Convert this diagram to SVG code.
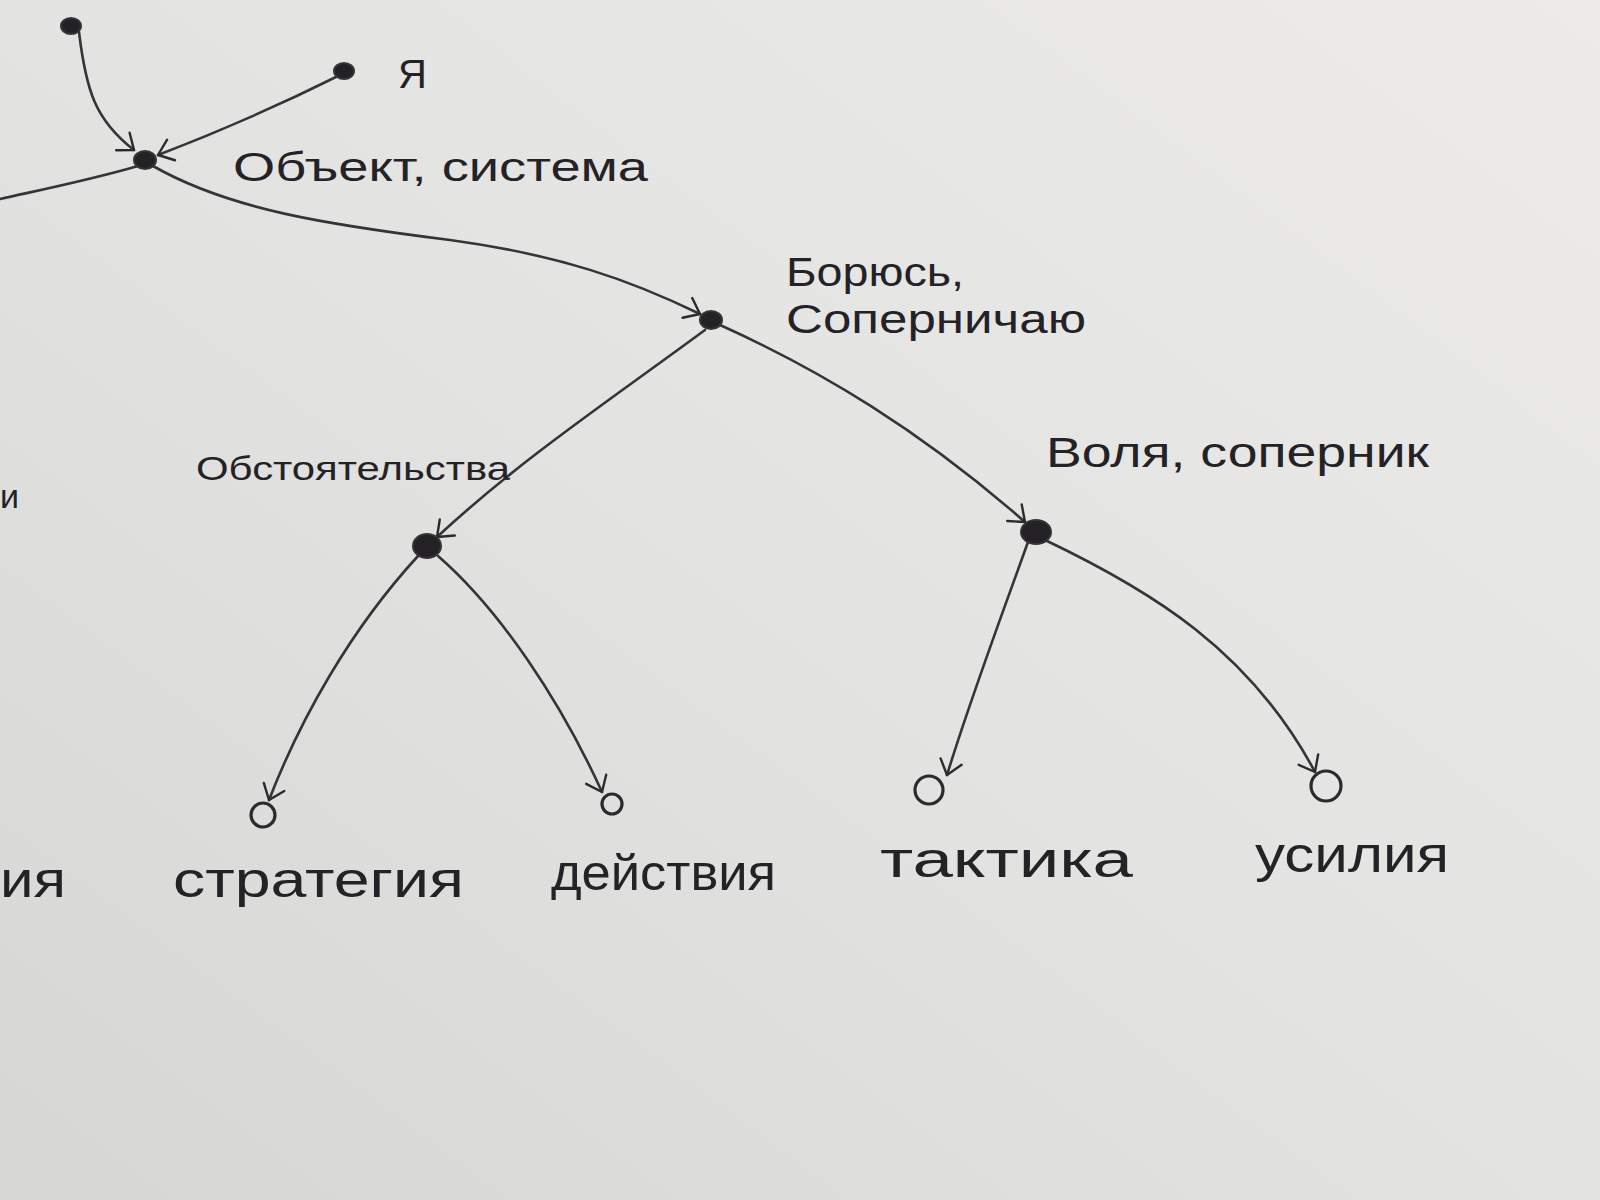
<svg xmlns="http://www.w3.org/2000/svg" width="1600" height="1200" viewBox="0 0 1600 1200">
  <defs>
    <linearGradient id="paper" x1="1" y1="0" x2="0" y2="1">
      <stop offset="0" stop-color="#ecebea"/>
      <stop offset="0.5" stop-color="#e3e3e1"/>
      <stop offset="1" stop-color="#d6d6d4"/>
    </linearGradient>
    <marker id="arr" viewBox="0 0 12 12" refX="11" refY="6" markerWidth="12" markerHeight="12" markerUnits="userSpaceOnUse" orient="auto" overflow="visible">
      <path d="M-14,-5 L0,6 M-14,17 L0,6" transform="translate(11,0)" fill="none" stroke="#2b2a2c" stroke-width="2.4" stroke-linecap="round"/>
    </marker>
    <style>
      .edge { fill: none; stroke: #353436; stroke-width: 2.6; stroke-linecap: round; }
      .dot { fill: #232125; stroke: #353436; stroke-width: 2; }
      .open { fill: none; stroke: #2b2a2c; stroke-width: 3.2; }
      .lbl { font-family: "Liberation Sans", "DejaVu Sans", sans-serif; fill: #242226; }
    </style>
  </defs>
  <rect x="0" y="0" width="1600" height="1200" fill="url(#paper)"/>

  <g id="connectors">
    <path class="edge" d="M79,32 C86,90 95,120 134,150" marker-end="url(#arr)"/>
    <path class="edge" d="M338,76 C270,110 210,135 158,155" marker-end="url(#arr)"/>
    <path class="edge" d="M138,166 C90,180 40,190 0,199"/>
    <path class="edge" d="M153,166 C230,210 330,225 450,240 C560,255 630,280 700,314" marker-end="url(#arr)"/>
    <path class="edge" d="M705,330 C610,400 520,460 437,537" marker-end="url(#arr)"/>
    <path class="edge" d="M720,325 C820,370 920,430 1025,522" marker-end="url(#arr)"/>
    <path class="edge" d="M418,556 C350,630 300,720 269,800" marker-end="url(#arr)"/>
    <path class="edge" d="M438,556 C500,610 560,700 602,792" marker-end="url(#arr)"/>
    <path class="edge" d="M1028,542 C1000,620 970,700 947,775" marker-end="url(#arr)"/>
    <path class="edge" d="M1045,540 C1150,590 1250,650 1315,772" marker-end="url(#arr)"/>
  </g>

  <g id="node-top">
    <ellipse class="dot" cx="71" cy="26" rx="10" ry="8"/>
  </g>
  <g id="node-ya">
    <ellipse class="dot" cx="344" cy="71" rx="10" ry="8"/>
    <text class="lbl" x="398" y="88" font-size="40">Я</text>
  </g>
  <g id="node-object">
    <ellipse class="dot" cx="145" cy="160" rx="11" ry="9"/>
    <text class="lbl" x="233" y="181" font-size="40" textLength="415" lengthAdjust="spacingAndGlyphs">Объект, система</text>
  </g>
  <g id="node-borius">
    <ellipse class="dot" cx="711" cy="320" rx="11" ry="9"/>
    <text class="lbl" x="786" y="286" font-size="40" textLength="178" lengthAdjust="spacingAndGlyphs">Борюсь,</text>
    <text class="lbl" x="786" y="333" font-size="40" textLength="300" lengthAdjust="spacingAndGlyphs">Соперничаю</text>
  </g>
  <g id="node-obst">
    <ellipse class="dot" cx="427" cy="546" rx="14" ry="12"/>
    <text class="lbl" x="196" y="480" font-size="34" textLength="314" lengthAdjust="spacingAndGlyphs">Обстоятельства</text>
  </g>
  <g id="node-volya">
    <ellipse class="dot" cx="1036" cy="532" rx="15" ry="12"/>
    <text class="lbl" x="1046" y="467" font-size="42" textLength="383" lengthAdjust="spacingAndGlyphs">Воля, соперник</text>
  </g>
  <g id="node-strategy">
    <circle class="open" cx="263" cy="815" r="12"/>
    <text class="lbl" x="173" y="897" font-size="50" textLength="291" lengthAdjust="spacingAndGlyphs">стратегия</text>
  </g>
  <g id="node-actions">
    <circle class="open" cx="612" cy="804" r="10"/>
    <text class="lbl" x="551" y="890" font-size="50" textLength="225" lengthAdjust="spacingAndGlyphs">действия</text>
  </g>
  <g id="node-tactics">
    <circle class="open" cx="929" cy="790" r="14"/>
    <text class="lbl" x="880" y="877" font-size="50" textLength="253" lengthAdjust="spacingAndGlyphs">тактика</text>
  </g>
  <g id="node-efforts">
    <circle class="open" cx="1326" cy="786" r="15"/>
    <text class="lbl" x="1255" y="872" font-size="50" textLength="194" lengthAdjust="spacingAndGlyphs">усилия</text>
  </g>
  <g id="edge-fragments">
    <text class="lbl" x="0" y="897" font-size="50" textLength="66" lengthAdjust="spacingAndGlyphs">ия</text>
    <text class="lbl" x="0" y="508" font-size="34">и</text>
  </g>
</svg>
